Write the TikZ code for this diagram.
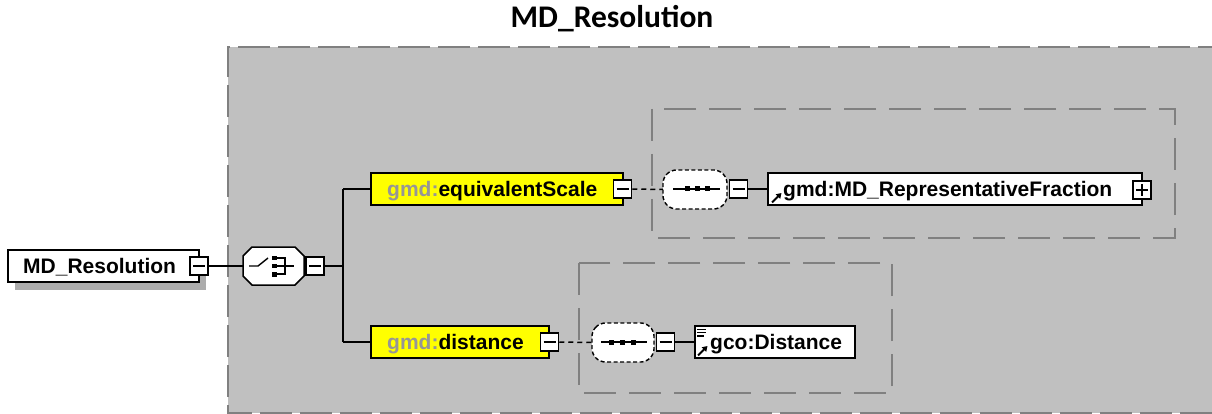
\documentclass[tikz,border=0pt]{standalone}
\usepackage{fontspec}
\setmainfont{Liberation Sans}
\newfontfamily\titlefont{Carlito}
\usetikzlibrary{arrows.meta}
\definecolor{bggray}{RGB}{192,192,192}
\definecolor{dashgray}{RGB}{128,128,128}
\definecolor{shadowgray}{RGB}{172,172,172}
\definecolor{nsgray}{RGB}{150,150,150}
\definecolor{elemyellow}{RGB}{255,255,0}
\tikzset{
  lbl/.style={inner sep=0pt, font=\fontsize{21}{25}\selectfont\bfseries, anchor=base west},
  elembox/.style={draw, line width=1.6pt, fill=white, rectangle, inner sep=0pt},
  yelbox/.style={elembox, fill=elemyellow},
  pmbox/.style={draw, line width=1.5pt, fill=white, rectangle, inner sep=0pt, minimum width=18pt, minimum height=18pt},
  pmline/.style={line width=1.3pt},
  conn/.style={line width=1.5pt},
  dconn/.style={line width=1.5pt, dash pattern=on 5pt off 4pt},
  groupbox/.style={draw=dashgray, line width=1.6pt, dash pattern=on 32pt off 13pt},
  holder/.style={rectangle, inner sep=0pt, draw=none},
  refarrow/.style={line width=1.8pt, -{Triangle[length=5pt,width=6pt]}},
}
\begin{document}
\begin{tikzpicture}[x=1pt,y=-1pt]
\useasboundingbox (0,0) rectangle (1212,414);
% title
\node[inner sep=0pt, anchor=base, font=\titlefont\bfseries\fontsize{31.5}{36}\selectfont] (title) at (612,28) {MD\_Resolution};
% outer group
\fill[bggray] (228,47) rectangle (1230,413);
\draw[groupbox, dash pattern=on 32pt off 8pt] (1230,47) -- (228,47) -- (228,413) -- (1230,413);
% inner groups
\draw[groupbox] (652,109) rectangle (1175,238);
\draw[groupbox] (579,263) rectangle (892,393);

% root element with shadow
\fill[shadowgray] (15,258) rectangle (206,290);
\node[elembox, minimum width=191pt, minimum height=32pt] (mdres) at (103.5,266) {};
\node[lbl] (mdreslbl) at (23,273.5) {MD\_Resolution};
\node[pmbox] (mdresminus) at (199,266) {};
\draw[pmline] (193,266) -- (205,266);

% choice compositor
\node[holder, minimum width=61pt, minimum height=38pt] (choice) at (273.5,266) {};
\draw[line width=1.5pt, fill=white] (252,247) -- (295,247) -- (304,256) -- (304,276) -- (295,285) -- (252,285) -- (243,276) -- (243,256) -- cycle;
\draw[line width=1.4pt] (249,266) -- (258,266) -- (268,258);
\fill (272,255.5) rectangle (276.5,260);
\fill (272,263.8) rectangle (276.5,268.2);
\fill (272,272) rectangle (276.5,276.5);
\draw[line width=1.4pt] (276,258) -- (285,258) -- (285,274) -- (276,274);
\draw[line width=1.4pt] (276,266) -- (294,266);
\node[pmbox] (choiceminus) at (315,266) {};
\draw[pmline] (309,266) -- (321,266);

\coordinate (junc) at (343,266);
\coordinate (j1) at (343,189);
\coordinate (j2) at (343,342);
\draw[conn] (mdresminus.east) -- (choice.west);
\draw[conn] (choiceminus.east) -- (junc);
\draw[conn] (j1) -- (j2);

% equivalentScale branch
\node[yelbox, minimum width=252pt, minimum height=32pt] (eqs) at (497,189) {};
\node[lbl] (eqslbl) at (387,196.5) {\textcolor{nsgray}{gmd:}equivalentScale};
\node[pmbox] (eqsminus) at (622.5,189) {};
\draw[pmline] (616.5,189) -- (628.5,189);
\draw[conn] (j1) -- (eqs.west);

\node[holder, minimum width=64pt, minimum height=39pt] (seqa) at (695,189.5) {};
\draw[line width=1.4pt, fill=white, dash pattern=on 4pt off 2.5pt, rounded corners=5pt] (663,178) -- (671,170) -- (719,170) -- (727,178) -- (727,201) -- (719,209) -- (671,209) -- (663,201) -- cycle;
\draw[line width=1.4pt] (673,189) -- (720,189);
\fill (684.5,186.5) rectangle (689.5,191.5);
\fill (694.5,186.5) rectangle (699.5,191.5);
\fill (704.5,186.5) rectangle (709.5,191.5);
\node[pmbox] (seqaminus) at (738.5,189) {};
\draw[pmline] (732.5,189) -- (744.5,189);
\draw[dconn] (eqsminus.east) -- (seqa.west);

\node[elembox, minimum width=374pt, minimum height=32pt] (mdrf) at (955,189) {};
\draw[refarrow] (772,202.5) -- (781.5,193);
\node[lbl] (mdrflbl) at (783,196.5) {gmd:MD\_RepresentativeFraction};
\node[pmbox] (mdrfplus) at (1142,190) {};
\draw[pmline] (1136,190) -- (1148,190) (1142,184) -- (1142,196);
\draw[conn] (seqaminus.east) -- (mdrf.west);

% distance branch
\node[yelbox, minimum width=178pt, minimum height=32pt] (dist) at (460,342) {};
\node[lbl] (distlbl) at (387,349.5) {\textcolor{nsgray}{gmd:}distance};
\node[pmbox] (distminus) at (549.5,342) {};
\draw[pmline] (543.5,342) -- (555.5,342);
\draw[conn] (j2) -- (dist.west);

\node[holder, minimum width=62pt, minimum height=39pt] (seqb) at (623,342.5) {};
\draw[line width=1.4pt, fill=white, dash pattern=on 4pt off 2.5pt, rounded corners=5pt] (592,331) -- (600,323) -- (646,323) -- (654,331) -- (654,354) -- (646,362) -- (600,362) -- (592,354) -- cycle;
\draw[line width=1.4pt] (601,342) -- (647,342);
\fill (608.5,339.5) rectangle (613.5,344.5);
\fill (619.5,339.5) rectangle (624.5,344.5);
\fill (630.5,339.5) rectangle (635.5,344.5);
\node[pmbox] (seqbminus) at (665.5,342) {};
\draw[pmline] (659.5,342) -- (671.5,342);
\draw[dconn] (distminus.east) -- (seqb.west);

\node[elembox, minimum width=160pt, minimum height=32pt] (gcod) at (775,342) {};
\draw[line width=1.2pt] (697,329.5) -- (706,329.5) (697,332.7) -- (706,332.7) (697,335.9) -- (704,335.9);
\draw[refarrow] (698,355.5) -- (707.5,346);
\node[lbl] (gcodlbl) at (710,349.5) {gco:Distance};
\draw[conn] (seqbminus.east) -- (gcod.west);
\end{tikzpicture}
\end{document}
